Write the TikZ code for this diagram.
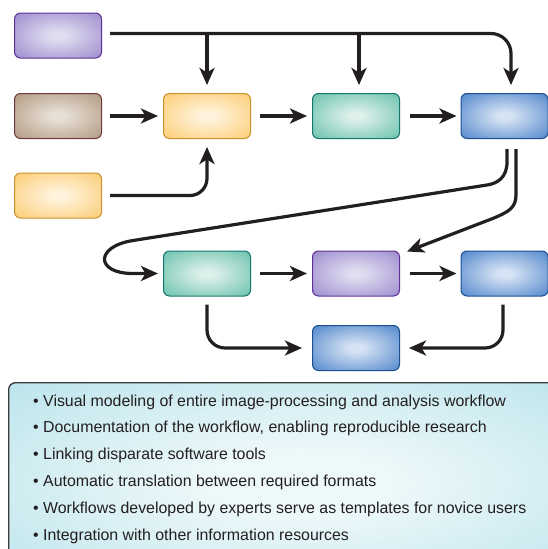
\documentclass[tikz,border=0pt]{standalone}
\usepackage{fontspec}
\setmainfont{Liberation Sans}
\usetikzlibrary{arrows.meta,calc}

\definecolor{ink}{HTML}{231F20}
\definecolor{purB}{HTML}{5E3195}\definecolor{purO}{HTML}{9B8BCE}\definecolor{purI}{HTML}{E1DDF0}
\definecolor{broB}{HTML}{6E3A3C}\definecolor{broO}{HTML}{B09880}\definecolor{broI}{HTML}{E8E0D6}
\definecolor{yelB}{HTML}{C8922F}\definecolor{yelO}{HTML}{FCCC72}\definecolor{yelI}{HTML}{FFF3DD}
\definecolor{teaB}{HTML}{17766C}\definecolor{teaO}{HTML}{68C1AC}\definecolor{teaI}{HTML}{DDF0EB}
\definecolor{bluB}{HTML}{1D4E92}\definecolor{bluO}{HTML}{4F85CB}\definecolor{bluI}{HTML}{D6E3F4}
\definecolor{infB}{HTML}{3A3A3C}\definecolor{infO}{HTML}{A2DAE4}\definecolor{infI}{HTML}{EDF8FA}

\pgfdeclareradialshading{shpur}{\pgfpointorigin}{color(0bp)=(purI);color(4bp)=(purI);color(36bp)=(purO);color(75bp)=(purO)}
\pgfdeclareradialshading{shbro}{\pgfpointorigin}{color(0bp)=(broI);color(4bp)=(broI);color(36bp)=(broO);color(75bp)=(broO)}
\pgfdeclareradialshading{shyel}{\pgfpointorigin}{color(0bp)=(yelI);color(4bp)=(yelI);color(36bp)=(yelO);color(75bp)=(yelO)}
\pgfdeclareradialshading{shtea}{\pgfpointorigin}{color(0bp)=(teaI);color(4bp)=(teaI);color(36bp)=(teaO);color(75bp)=(teaO)}
\pgfdeclareradialshading{shblu}{\pgfpointorigin}{color(0bp)=(bluI);color(4bp)=(bluI);color(36bp)=(bluO);color(75bp)=(bluO)}
\pgfdeclareradialshading{shinf}{\pgfpointorigin}{color(0bp)=(infI);color(8bp)=(infI);color(50bp)=(infO);color(75bp)=(infO)}

\tikzset{
  stage/.style={rounded corners=6pt, minimum width=87pt, minimum height=45pt, line width=1pt, inner sep=0pt},
  pur/.style={stage, draw=purB, shading=shpur},
  bro/.style={stage, draw=broB, shading=shbro},
  yel/.style={stage, draw=yelB, shading=shyel},
  tea/.style={stage, draw=teaB, shading=shtea},
  blu/.style={stage, draw=bluB, shading=shblu},
  conn/.style={draw=ink, line width=3.2pt, -{Stealth[length=17pt,width=15pt,inset=4.5pt]}},
  bullet/.style={anchor=base west, inner sep=0pt, text=ink, font=\fontsize{15.9}{18}\selectfont}
}

\begin{document}
\begin{tikzpicture}[x=1pt,y=-1pt]
\useasboundingbox (0,0) rectangle (548,549);
\clip (0,0) rectangle (548,549);

% nodes
\node[pur] (pA)  at (58,35.5) {};
\node[bro] (brA) at (58,116) {};
\node[yel] (yB)  at (58,195.5) {};
\node[yel] (yA)  at (207,116) {};
\node[tea] (tA)  at (356,116) {};
\node[blu] (bA)  at (504.5,116) {};
\node[tea] (tB)  at (207,273.5) {};
\node[pur] (pB)  at (356,273.5) {};
\node[blu] (bB)  at (504.5,273.5) {};
\node[blu] (bC)  at (356,348) {};

% top distribution line
\draw[conn, rounded corners=20pt] ($(pA.east)+(8,-2)$) -| ($(bA.north)+(6.5,-8)$);
\draw[conn] ($(yA.north |- pA.east)+(0,-2)$) -- ($(yA.north)+(0,-8)$);
\draw[conn] ($(tA.north |- pA.east)+(3,-2)$) -- ($(tA.north)+(3,-8)$);

% row 1
\draw[conn] ($(brA.east)+(8,0)$) -- ($(yA.west)+(-5,0)$);
\draw[conn, rounded corners=17pt] ($(yB.east)+(8,0)$) -| ($(yA.south)+(0,8)$);
\draw[conn] ($(yA.east)+(9,0)$) -- ($(tA.west)+(-5,0)$);
\draw[conn] ($(tA.east)+(10,0)$) -- ($(bA.west)+(-4,0)$);

% from blue1 down to row 2
\draw[conn] ($(bA.south)+(2.5,10)$) -- (507,162) .. controls (507,177) and (498,183.4) .. (487,185)
  -- (133,240.5) .. controls (95,246.4) and (95,273.5) .. (133,273.5) -- ($(tB.west)+(-5,0)$);
\draw[conn] ($(bA.south)+(11.5,10)$) -- (516,195) .. controls (516,208) and (508,212) .. (494,218)
  -- ($(pB.north east)+(7,1)$);

% row 2
\draw[conn] ($(tB.east)+(9,0)$) -- ($(pB.west)+(-5,0)$);
\draw[conn] ($(pB.east)+(10,0)$) -- ($(bB.west)+(-4,0)$);
\draw[conn, rounded corners=18pt] ($(tB.south)+(0,8)$) |- ($(bC.west)+(-10,0)$);
\draw[conn, rounded corners=18pt] ($(bB.south)+(-1.5,8)$) |- ($(bC.east)+(9,0)$);

% info box
\node[anchor=north west, minimum width=580pt, minimum height=200pt, inner sep=0pt,
      draw=infB, line width=1.3pt, rounded corners=7pt, shading=shinf] (info) at (8,382) {};
\node[bullet] (l1) at (33,406)   {• Visual modeling of entire image-processing and analysis workflow};
\node[bullet] (l2) at (33,432.9) {• Documentation of the workflow, enabling reproducible research};
\node[bullet] (l3) at (33,459.8) {• Linking disparate software tools};
\node[bullet] (l4) at (33,486.7) {• Automatic translation between required formats};
\node[bullet] (l5) at (33,513.6) {• Workflows developed by experts serve as templates for novice users};
\node[bullet] (l6) at (33,540.5) {• Integration with other information resources};
\end{tikzpicture}
\end{document}
